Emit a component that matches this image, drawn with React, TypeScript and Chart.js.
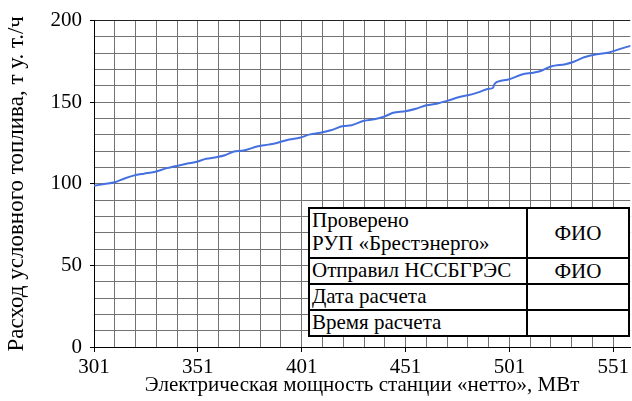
import React, { useEffect, useRef } from "react";
import { Chart, registerables } from "chart.js";

Chart.register(...registerables);

const powerMW = [
  301, 306, 311, 316, 320, 325, 330, 336, 340, 346, 350, 355, 360, 364, 368, 373,
  380, 385, 389, 395, 400, 405, 410, 415, 421, 425, 431, 436, 441, 445, 451, 456,
  461, 466, 471, 477, 481, 486, 491, 493, 494, 500, 507, 513, 517, 521, 528, 532,
  537, 543, 549, 554, 560,
];
const fuelRate = [
  98.8, 99.9, 101.0, 103.4, 105.0, 106.2, 107.2, 109.6, 110.7, 112.4, 113.4, 115.3,
  116.3, 117.5, 119.6, 120.4, 123.0, 124.0, 125.0, 127.2, 128.2, 130.3, 131.3, 132.8,
  135.4, 135.9, 138.6, 139.5, 141.3, 143.5, 144.5, 146.0, 148.1, 149.1, 150.8, 153.2,
  154.2, 156.0, 158.2, 158.7, 161.5, 163.7, 167.0, 168.2, 169.6, 171.9, 173.3, 174.8,
  177.5, 179.4, 180.5, 182.5, 184.8,
];
const xTickValues = [301, 311, 321, 331, 341, 351, 361, 371, 381, 391, 401, 411, 421, 431, 441, 451, 461, 471, 481, 491, 501, 511, 521, 531, 541, 551];
const xLabelValues = [301, 351, 401, 451, 501, 551];
const yLabelValues = [0, 50, 100, 150, 200];

const xTitle = "Электрическая мощность станции «нетто», МВт";
const yTitle = "Расход условного топлива, т у. т./ч";

const tableRows = [
  ["Проверено\nРУП «Брестэнерго»", "ФИО"],
  ["Отправил НССБГРЭС", "ФИО"],
  ["Дата расчета", ""],
  ["Время расчета", ""],
];

const FONT = '"Liberation Serif", "Times New Roman", serif';

export default function App() {
  const ref = useRef<HTMLCanvasElement | null>(null);

  useEffect(() => {
    if (!ref.current) return;
    const chart = new Chart(ref.current, {
      type: "line",
      data: {
        datasets: [
          {
            data: powerMW.map((x, i) => ({ x, y: fuelRate[i] })),
            borderColor: "#4570e0",
            borderWidth: 2,
            pointRadius: 0,
            tension: 0.3,
            cubicInterpolationMode: "monotone",
          },
        ],
      },
      options: {
        animation: false,
        responsive: false,
        maintainAspectRatio: false,
        layout: { padding: { top: 18, right: 0, left: 0, bottom: 0 } },
        plugins: { legend: { display: false }, tooltip: { enabled: false } },
        scales: {
          x: {
            type: "linear",
            min: 301,
            max: 559.2,
            afterBuildTicks: (scale: any) => {
              scale.ticks = xTickValues.map((v) => ({ value: v }));
            },
            afterFit: (scale: any) => {
              scale.height = 54;
            },
            grid: {
              color: (ctx: any) => (ctx.tick && ctx.tick.value === 301 ? "#000" : "#737373"),
              tickColor: (ctx: any) =>
                ctx.tick && xLabelValues.includes(ctx.tick.value) ? "#000" : "rgba(0,0,0,0)",
              tickLength: 5,
            },
            border: { color: "#000", width: 1 },
            ticks: {
              autoSkip: false,
              maxRotation: 0,
              padding: 3,
              color: "#000",
              font: { family: FONT, size: 21 },
              callback: (v: any) => (xLabelValues.includes(v) ? String(v) : ""),
            },
            title: {
              display: true,
              text: xTitle,
              color: "#000",
              font: { family: FONT, size: 21 },
              padding: { top: 0, bottom: 3 },
            },
          },
          y: {
            min: 0,
            max: 200,
            afterFit: (scale: any) => {
              scale.width = 94;
            },
            grid: {
              color: (ctx: any) => (ctx.tick && ctx.tick.value === 200 ? "#222" : "#737373"),
              tickColor: (ctx: any) =>
                ctx.tick && yLabelValues.includes(ctx.tick.value) ? "#000" : "rgba(0,0,0,0)",
              tickLength: 4,
            },
            border: { color: "#000", width: 1 },
            ticks: {
              stepSize: 10,
              autoSkip: false,
              padding: 8,
              color: "#000",
              font: { family: FONT, size: 21 },
              callback: (v: any) => (yLabelValues.includes(v) ? String(v) : ""),
            },
            title: {
              display: true,
              text: yTitle,
              color: "#000",
              font: { family: FONT, size: 23 },
              padding: { top: 3, bottom: 0 },
            },
          },
        },
      },
    });
    return () => chart.destroy();
  }, []);

  const cellBase: React.CSSProperties = {
    border: "2px solid #000",
    padding: "0 2px",
    fontFamily: FONT,
    fontSize: 21,
    lineHeight: "23px",
    color: "#000",
    whiteSpace: "pre",
  };

  return (
    <div style={{ position: "fixed", left: 0, top: 0, width: 632, height: 401, background: "#fff", overflow: "hidden" }}>
      <canvas ref={ref} width={632} height={401} style={{ width: 632, height: 401, display: "block" }} />
      <table
        style={{
          position: "absolute",
          left: 308,
          top: 207,
          width: 322,
          height: 129,
          borderCollapse: "collapse",
          background: "#fff",
        }}
      >
        <tbody>
          {tableRows.map((r, i) => (
            <tr key={i} style={{ height: i === 0 ? 50 : 26 }}>
              <td style={{ ...cellBase, width: 212, textAlign: "left", verticalAlign: "top" }}>{r[0]}</td>
              <td style={{ ...cellBase, textAlign: "center", verticalAlign: "middle" }}>{r[1]}</td>
            </tr>
          ))}
        </tbody>
      </table>
    </div>
  );
}
